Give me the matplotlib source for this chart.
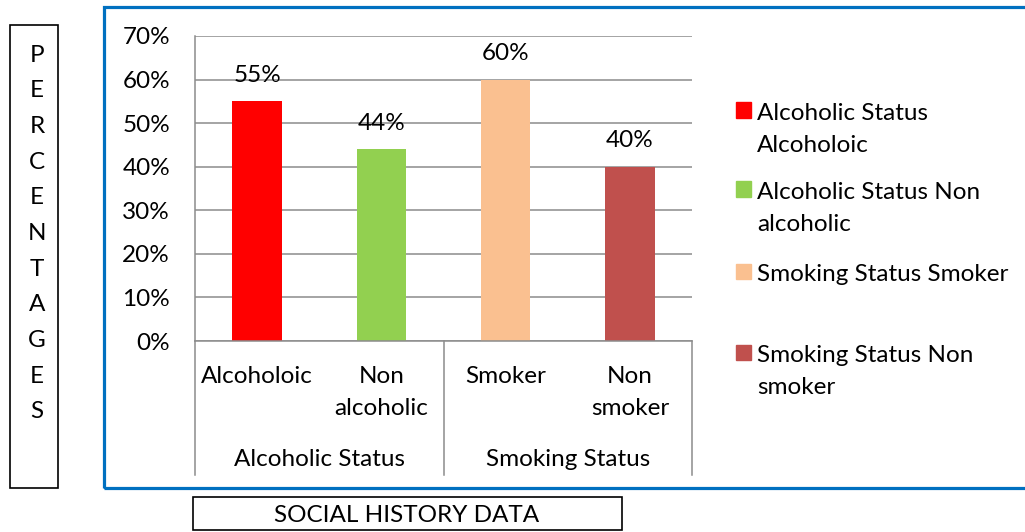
import matplotlib
matplotlib.use("Agg")
import matplotlib.pyplot as plt
from matplotlib.patches import Rectangle
from matplotlib.transforms import blended_transform_factory

plt.rcParams['font.family'] = ['Lato', 'DejaVu Sans']
FS = 17.5
LS = 1.62

# data
groups = ["Alcoholic Status", "Smoking Status"]
categories = ["Alcoholoic", "Non\nalcoholic", "Smoker", "Non\nsmoker"]
values = [55, 44, 60, 40]
colors = ["#FF0000", "#92D050", "#FAC090", "#C0504D"]
legend_labels = ["Alcoholic Status\nAlcoholoic", "Alcoholic Status Non\nalcoholic",
                 "Smoking Status Smoker", "Smoking Status Non\nsmoker"]
yticks = [0, 10, 20, 30, 40, 50, 60, 70]

W, H = 1025, 532
fig = plt.figure(figsize=(W / 100, H / 100), dpi=100)


def fx(px):
    return px / W


def fy(py):
    return 1 - py / H


ax = fig.add_axes([fx(195), fy(341), fx(692) - fx(195), fy(36) - fy(341)])
x = list(range(len(categories)))
ax.bar(x, values, width=0.4, color=colors, zorder=3)
for xi, v in zip(x, values):
    ax.annotate(f"{v}%", (xi, v), xytext=(0, 14), textcoords="offset points",
                ha="center", va="baseline", fontsize=FS)

ax.set_xlim(-0.5, len(categories) - 0.5)
ax.set_ylim(0, 70)
ax.set_yticks(yticks)
ax.set_yticklabels([f"{t}%" for t in yticks], fontsize=FS)
ax.tick_params(axis="y", length=0, pad=18)
ax.set_xticks([])
grid_c = "#8C8C8C"
ax.grid(axis="y", color=grid_c, lw=1.1, zorder=0)
for s in ["top", "right", "bottom"]:
    ax.spines[s].set_visible(False)
ax.spines["left"].set_color(grid_c)
ax.spines["left"].set_linewidth(1.1)

# two-level category axis
tr = blended_transform_factory(ax.transData, ax.transAxes)
ax.plot([-0.5, len(categories) - 0.5], [0, 0], color=grid_c, lw=1.1,
        transform=tr, clip_on=False, zorder=4)
for sep in [-0.5, 1.5, 3.5]:
    ax.plot([sep, sep], [0, -0.44], color=grid_c, lw=1.1, transform=tr, clip_on=False)
for xi, c in zip(x, categories):
    ax.text(xi, -0.082, c, transform=tr, ha="center", va="top", fontsize=FS,
            linespacing=LS)
for gi, g in enumerate(groups):
    ax.text(gi * 2 + 0.5, -0.387, g, transform=tr, ha="center", va="center", fontsize=FS)

# legend
leg_y = [110, 189, 271, 352]
for ly, lab, c in zip(leg_y, legend_labels, colors):
    fig.add_artist(Rectangle((fx(736), fy(ly + 7.5)), fx(15), fy(0) - fy(15),
                             transform=fig.transFigure, color=c))
    fig.text(fx(757), fy(ly - 7), lab, ha="left", va="top", fontsize=FS, linespacing=LS)

# chart frame
fig.add_artist(Rectangle((fx(104), fy(488)), fx(940), fy(7) - fy(488),
                         transform=fig.transFigure, fill=False, ec="#0070C0", lw=2.3))

# side title box
fig.add_artist(Rectangle((fx(10), fy(488)), fx(48), fy(25) - fy(488),
                         transform=fig.transFigure, fill=False, ec="black", lw=1.2))
for i, ch in enumerate("PERCENTAGES"):
    fig.text(fx(37), fy(55 + i * 35.7), ch, ha="center", va="center", fontsize=FS)

# bottom title box
fig.add_artist(Rectangle((fx(193), fy(530)), fx(429), fy(497) - fy(530),
                         transform=fig.transFigure, fill=False, ec="black", lw=1.2))
fig.text(fx(407), fy(516), "SOCIAL HISTORY DATA", ha="center", va="center", fontsize=FS)

fig.savefig("out.png", dpi=100)
